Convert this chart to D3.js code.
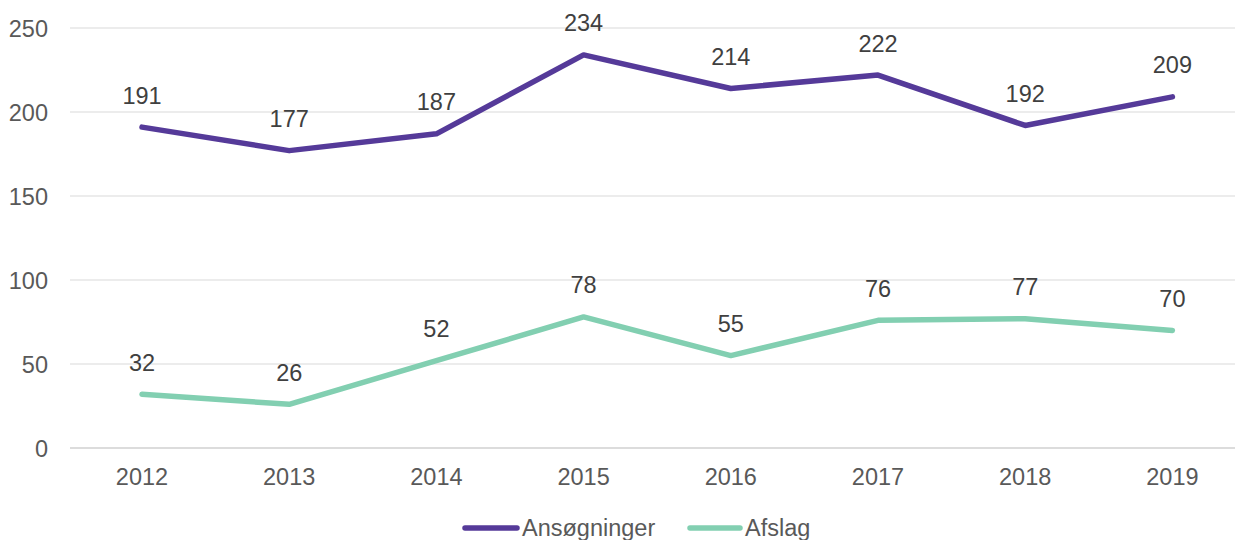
<!DOCTYPE html>
<html><head><meta charset="utf-8">
<script src="https://cdn.jsdelivr.net/npm/d3@7"></script>
<style>body{margin:0;background:#fff}svg{display:block;font-family:"Liberation Sans",Arial,sans-serif}</style>
</head><body><svg id="c" width="1235" height="540"></svg>
<script>
const years = ["2012","2013","2014","2015","2016","2017","2018","2019"];
const ansogninger = [191,177,187,234,214,222,192,209];
const afslag = [32,26,52,78,55,76,77,70];
const yTicks = [0,50,100,150,200,250];
const seriesNames = ["Ansøgninger","Afslag"];
const colors = ["#553a99","#82cfb1"];

const svg = d3.select("#c");
const x = d3.scaleBand().domain(years).range([68.4,1246]);
const y = d3.scaleLinear().domain([0,250]).range([448,28]);

svg.append("g").selectAll("line").data(yTicks).join("line")
  .attr("x1",70).attr("x2",1235).attr("y1",d=>y(d)).attr("y2",d=>y(d))
  .attr("stroke",d=>d===0?"#d0d0d0":"#d9d9d9").attr("stroke-width",d=>d===0?1.5:1.2);

svg.append("g").selectAll("text").data(yTicks).join("text")
  .attr("x",48).attr("y",d=>y(d)+8.5).attr("text-anchor","end")
  .attr("font-size",23.5).attr("fill","#595959").text(d=>d);

svg.append("g").selectAll("text").data(years).join("text")
  .attr("x",d=>x(d)+x.bandwidth()/2).attr("y",485).attr("text-anchor","middle")
  .attr("font-size",23.5).attr("fill","#595959").text(d=>d);

const line = d3.line().x((d,i)=>x(years[i])+x.bandwidth()/2).y(d=>y(d));
[ansogninger,afslag].forEach((s,k)=>{
  svg.append("path").datum(s).attr("d",line).attr("fill","none")
    .attr("stroke",colors[k]).attr("stroke-width",5.5).attr("stroke-linecap","round").attr("stroke-linejoin","round");
  svg.append("g").selectAll("text").data(s).join("text")
    .attr("x",(d,i)=>x(years[i])+x.bandwidth()/2).attr("y",d=>y(d)-23.5)
    .attr("text-anchor","middle").attr("font-size",23.5).attr("fill","#404040").text(d=>d);
});

const leg = [{x1:463,x2:519,tx:522},{x1:688,x2:742,tx:745}];
seriesNames.forEach((n,k)=>{
  svg.append("line").attr("x1",leg[k].x1+2).attr("x2",leg[k].x2-2).attr("y1",528).attr("y2",528)
    .attr("stroke",colors[k]).attr("stroke-width",5.5).attr("stroke-linecap","round");
  svg.append("text").attr("x",leg[k].tx).attr("y",536).attr("font-size",23.5).attr("fill","#595959").text(n);
});
</script></body></html>
